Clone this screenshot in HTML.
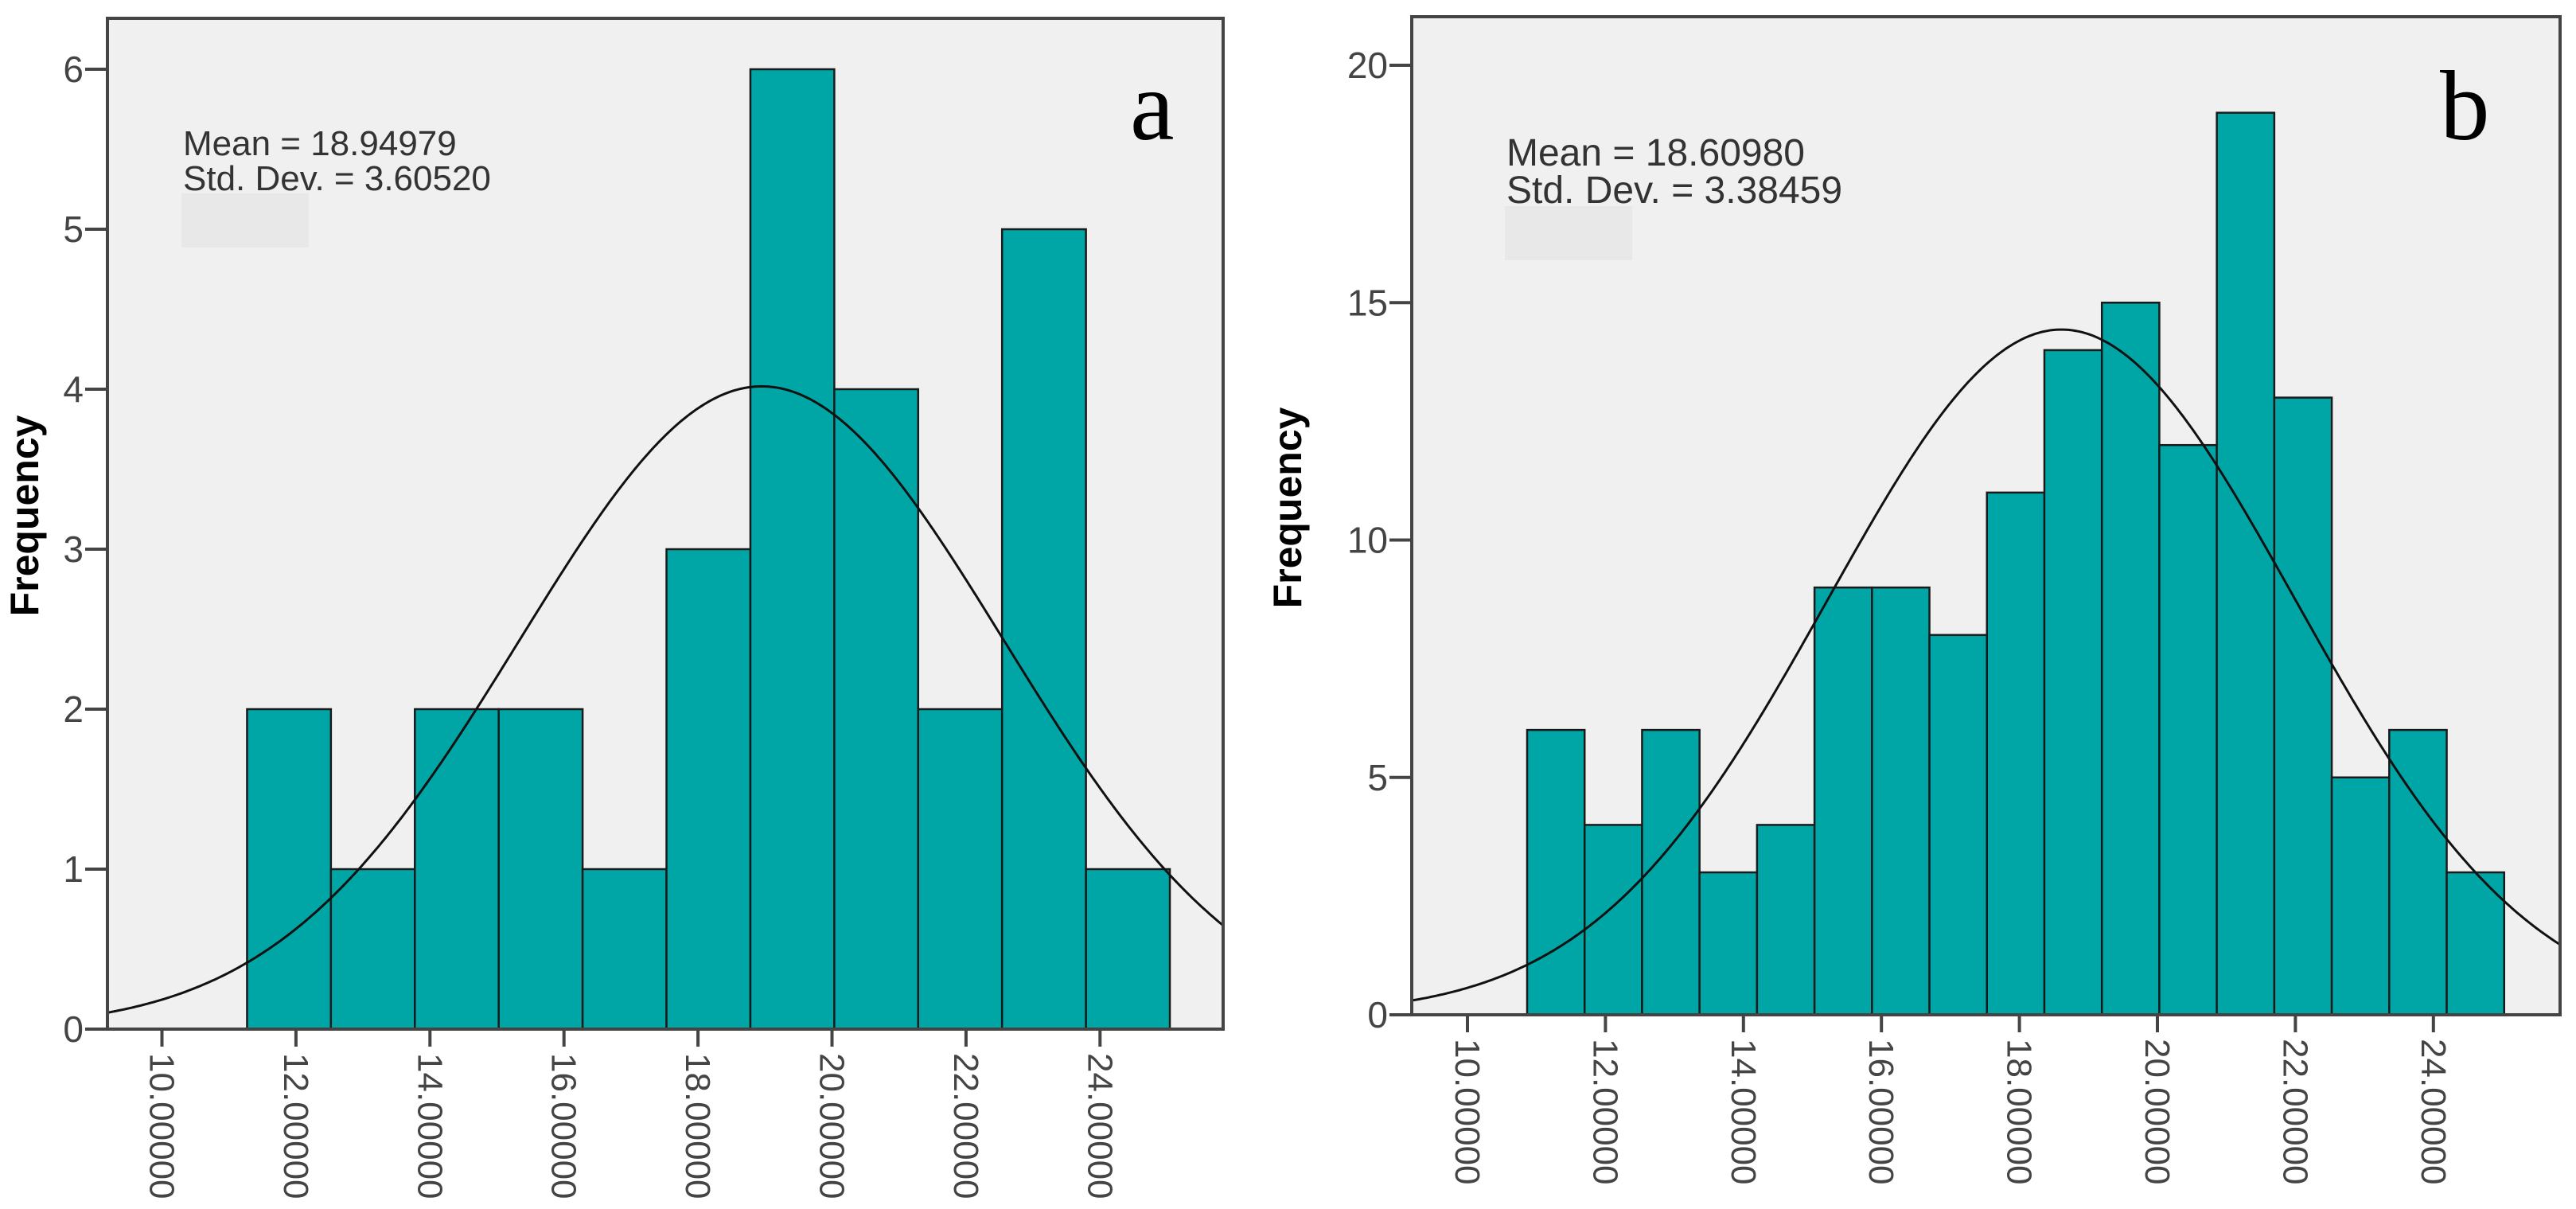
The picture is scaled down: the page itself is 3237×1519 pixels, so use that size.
<!DOCTYPE html>
<html><head><meta charset="utf-8"><style>
html,body{margin:0;padding:0;background:#fff;}
svg{display:block;}
</style></head><body>
<svg id="chart" width="3237" height="1519" viewBox="0 0 3237 1519" xmlns="http://www.w3.org/2000/svg" font-family="Liberation Sans, Arial, sans-serif"></svg>
<script>
// Panel a data
const aCounts = [2, 1, 2, 2, 1, 3, 6, 4, 2, 5, 1];
const aBinStart = 11.27;
const aBinWidth = 1.252;
const aMean = 18.94979;
const aSd = 3.60520;
const aYTicks = [0, 1, 2, 3, 4, 5, 6];
const aXTicks = [10, 12, 14, 16, 18, 20, 22, 24];
const aXLabels = ["10.00000","12.00000","14.00000","16.00000","18.00000","20.00000","22.00000","24.00000"];
const aStats = ["Mean = 18.94979", "Std. Dev. = 3.60520"];

// Panel b data
const bCounts = [6, 4, 6, 3, 4, 9, 9, 8, 11, 14, 15, 12, 19, 13, 5, 6, 3];
const bBinStart = 10.865;
const bBinWidth = 0.833;
const bMean = 18.60980;
const bSd = 3.38459;
const bYTicks = [0, 5, 10, 15, 20];
const bXTicks = [10, 12, 14, 16, 18, 20, 22, 24];
const bXLabels = ["10.00000","12.00000","14.00000","16.00000","18.00000","20.00000","22.00000","24.00000"];
const bStats = ["Mean = 18.60980", "Std. Dev. = 3.38459"];

const NS = "http://www.w3.org/2000/svg";
const svg = document.getElementById("chart");
function mk(tag, attrs, parent) {
  const e = document.createElementNS(NS, tag);
  for (const k in attrs) e.setAttribute(k, attrs[k]);
  (parent || svg).appendChild(e);
  return e;
}

function panel(cfg) {
  const g = mk("g", {});
  
  
  const L = cfg.left, R = cfg.right, T = cfg.top, B = cfg.bottom;
  const xs = v => cfg.x0px + (v - cfg.x0val) * cfg.xPerUnit;
  const ys = v => B - v * cfg.yPerUnit;

  const bg = mk("rect", {x: L, y: T, width: R - L, height: B - T, fill: "#f0f0f0"}, g);
  
  

  // stats
  const st = mk("g", {}, g);
  
  
  cfg.stats.forEach((s, i) => {
    const t = mk("text", {x: cfg.statX, y: cfg.statY + i * cfg.statGap, "font-size": cfg.statFont, fill: "#333"}, st);
    t.textContent = s;
    
    
  });
  const box = mk("rect", {x: cfg.statX - 2, y: cfg.statY + cfg.statGap + 4, width: 160, height: 68, fill: "#e8e8e8"}, st);
  
  

  // bars
  const bars = mk("g", {}, g);
  
  
  cfg.counts.forEach((c, i) => {
    const x1 = xs(cfg.binStart + i * cfg.binWidth), x2 = xs(cfg.binStart + (i + 1) * cfg.binWidth);
    const r = mk("rect", {x: x1, y: ys(c), width: x2 - x1, height: ys(0) - ys(c), fill: "#00a6a6", stroke: "#1a1a1a", "stroke-width": 2.5}, bars);
    
    
  });

  // normal curve
  const n = cfg.counts.reduce((a, b) => a + b, 0);
  const pts = [];
  for (let px = L; px <= R; px += 3) {
    const v = cfg.x0val + (px - cfg.x0px) / cfg.xPerUnit;
    const z = (v - cfg.mean) / cfg.sd;
    const f = n * cfg.binWidth / (cfg.sd * Math.sqrt(2 * Math.PI)) * Math.exp(-0.5 * z * z);
    pts.push(px.toFixed(1) + "," + ys(f).toFixed(1));
  }
  const cv = mk("polyline", {points: pts.join(" "), fill: "none", stroke: "#111", "stroke-width": 3}, g);
  
  

  // frame
  const fr = mk("rect", {x: L, y: T, width: R - L, height: B - T, fill: "none", stroke: "#444", "stroke-width": 4}, g);
  
  

  // y axis
  const ya = mk("g", {}, g);
  
  
  cfg.yTicks.forEach(v => {
    mk("line", {x1: L - 28, x2: L, y1: ys(v), y2: ys(v), stroke: "#444", "stroke-width": 4}, ya);
    const t = mk("text", {x: L - 30, y: ys(v) + 16, "font-size": 46, "text-anchor": "end", fill: "#444"}, ya);
    t.textContent = v;
    
    
  });
  const yt = mk("text", {x: 0, y: 0, "font-size": 50, "font-weight": "bold", "text-anchor": "middle", fill: "#000",
    transform: "translate(" + cfg.yTitleX + "," + ((T + B) / 2 - 10) + ") rotate(-90)"}, ya);
  yt.textContent = "Frequency";
  
  

  // x axis
  const xa = mk("g", {}, g);
  
  
  cfg.xTicks.forEach((v, i) => {
    mk("line", {x1: xs(v), x2: xs(v), y1: B, y2: B + 22, stroke: "#444", "stroke-width": 4}, xa);
    const t = mk("text", {x: 0, y: 0, "font-size": 44, fill: "#444",
      transform: "translate(" + (xs(v) - 15) + "," + (B + 30) + ") rotate(90)"}, xa);
    t.textContent = cfg.xLabels[i];
    
    
  });

  const lt = mk("text", {x: cfg.letterX, y: 175, "font-size": 125, "font-family": "Liberation Serif, serif", fill: "#000"}, g);
  lt.textContent = cfg.id;
  
  
}

panel({id: "a", left: 135, right: 1537, top: 23, bottom: 1293, x0px: 203.5, x0val: 10, xPerUnit: 84.2, yPerUnit: 201,
  counts: aCounts, binStart: aBinStart, binWidth: aBinWidth, mean: aMean, sd: aSd,
  yTicks: aYTicks, xTicks: aXTicks, xLabels: aXLabels, stats: aStats,
  statX: 230, statY: 195, statGap: 44, statFont: 44, yTitleX: 48, letterX: 1420});
panel({id: "b", left: 1774, right: 3217, top: 21, bottom: 1275, x0px: 1844, x0val: 10, xPerUnit: 86.7, yPerUnit: 59.65,
  counts: bCounts, binStart: bBinStart, binWidth: bBinWidth, mean: bMean, sd: bSd,
  yTicks: bYTicks, xTicks: bXTicks, xLabels: bXLabels, stats: bStats,
  statX: 1893, statY: 208, statGap: 47, statFont: 48, yTitleX: 1635, letterX: 3066});
</script>
</body></html>
